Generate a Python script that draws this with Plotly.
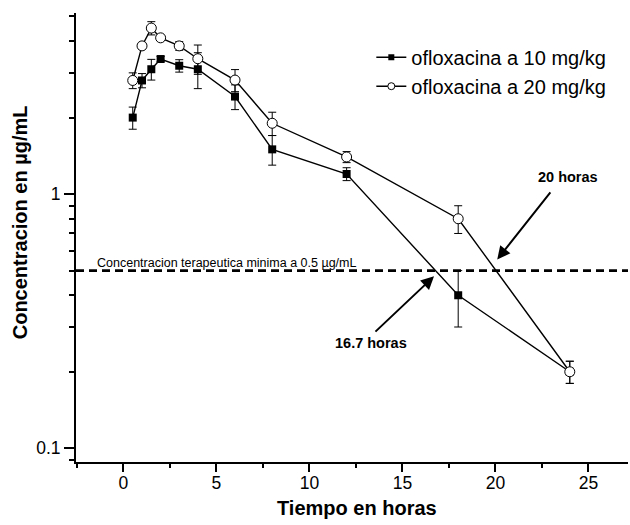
import numpy as np
import plotly.graph_objects as go

# Data
time_h = [0.5, 1, 1.5, 2, 3, 4, 6, 8, 12, 18, 24]
conc_10 = [2.0, 2.8, 3.1, 3.4, 3.2, 3.1, 2.42, 1.5, 1.2, 0.40, 0.20]
err_10 = [0.2, 0.18, 0.29, 0.08, 0.18, 0.5, 0.27, 0.2, 0.07, 0.1, 0.02]
conc_20 = [2.8, 3.83, 4.5, 4.12, 3.83, 3.41, 2.81, 1.9, 1.4, 0.8, 0.20]
err_20 = [0.2, 0.12, 0.27, 0.1, 0.15, 0.45, 0.28, 0.2, 0.07, 0.1, 0.02]
threshold = 0.5
cross_10 = 16.7
cross_20 = 20.0
name_10 = "ofloxacina a 10 mg/kg"
name_20 = "ofloxacina a 20 mg/kg"
x_ticks = [0, 5, 10, 15, 20, 25]
x_minor = [-2.5, 2.5, 7.5, 12.5, 17.5, 22.5]
y_ticks = [0.1, 1]
y_ticklabels = ["0.1", "1"]
y_minor = [0.09, 0.2, 0.3, 0.4, 0.5, 0.6, 0.7, 0.8, 0.9, 2, 3, 4, 5]

XR = [-2.55, 27.13]
YR = [-1.054, 0.7126]
FONT = "Arial, Liberation Sans, sans-serif"

fig = go.Figure()

fig.add_trace(go.Scatter(
    x=XR, y=[threshold, threshold], mode="lines",
    line=dict(color="black", width=2.6, dash="8px,5px"),
    showlegend=False, hoverinfo="skip"))

fig.add_trace(go.Scatter(
    x=time_h, y=conc_10, mode="lines+markers",
    line=dict(color="black", width=1.4),
    marker=dict(symbol="square", size=8, color="black"),
    error_y=dict(type="data", array=err_10, color="black", thickness=1, width=4),
    showlegend=False))

fig.add_trace(go.Scatter(
    x=time_h, y=conc_20, mode="lines+markers",
    line=dict(color="black", width=1.4),
    marker=dict(symbol="circle", size=10, color="white", line=dict(color="black", width=1)),
    error_y=dict(type="data", array=err_20, color="black", thickness=1, width=4),
    showlegend=False))

# legend entries
fig.add_trace(go.Scatter(
    x=[None], y=[None], mode="lines+markers", name=name_10,
    line=dict(color="black", width=1.6),
    marker=dict(symbol="square", size=6, color="black")))
fig.add_trace(go.Scatter(
    x=[None], y=[None], mode="lines+markers", name=name_20,
    line=dict(color="black", width=1.6),
    marker=dict(symbol="circle", size=7, color="white", line=dict(color="black", width=1))))

annotations = [
    dict(x=-1.53, y=np.log10(threshold) + 0.03, xref="x", yref="y",
         text="Concentracion terapeutica minima a 0.5 µg/mL", showarrow=False,
         xanchor="left", yanchor="middle", font=dict(size=12.5, color="black", family=FONT)),
    # arrows
    dict(x=cross_10, y=np.log10(0.475), ax=13.47, ay=np.log10(0.284),
         xref="x", yref="y", axref="x", ayref="y", text="", showarrow=True,
         arrowhead=2, arrowsize=1.3, arrowwidth=2, arrowcolor="black"),
    dict(x=cross_20 + 0.1, y=np.log10(0.553), ax=23.02, ay=np.log10(1.03),
         xref="x", yref="y", axref="x", ayref="y", text="", showarrow=True,
         arrowhead=2, arrowsize=1.3, arrowwidth=2, arrowcolor="black"),
    dict(x=(371 - 123.5) / 18.6, y=(194 - 343) / 254, xref="x", yref="y",
         text="<b>%.1f horas</b>" % cross_10, showarrow=False,
         xanchor="center", yanchor="middle",
         font=dict(size=14.5, color="black", family=FONT)),
    dict(x=(568.5 - 123.5) / 18.6, y=(194 - 177) / 254, xref="x", yref="y",
         text="<b>%d horas</b>" % cross_20, showarrow=False,
         xanchor="center", yanchor="middle",
         font=dict(size=14.5, color="black", family=FONT)),
    # axis titles
    dict(x=-0.1014, y=0.534, xref="paper", yref="paper", textangle=-90,
         xanchor="center", yanchor="middle",
         text="<b>Concentracion en µg/mL</b>", showarrow=False,
         font=dict(size=20, color="black", family=FONT)),
    dict(x=0.509, y=-0.103, xref="paper", yref="paper",
         xanchor="center", yanchor="middle",
         text="<b>Tiempo en horas</b>", showarrow=False,
         font=dict(size=20, color="black", family=FONT)),
]

fig.update_layout(
    width=630, height=525,
    margin=dict(l=76, r=2, t=13, b=63),
    paper_bgcolor="white", plot_bgcolor="white",
    font=dict(family=FONT, color="black"),
    annotations=annotations,
    legend=dict(x=0.535, y=0.945, xanchor="left", yanchor="top",
                font=dict(size=20, color="black", family=FONT),
                bgcolor="rgba(0,0,0,0)", tracegroupgap=0),
    xaxis=dict(range=XR, showgrid=False, zeroline=False,
               showline=True, linecolor="black", linewidth=2,
               tickmode="array", tickvals=x_ticks,
               ticks="outside", ticklen=8, tickwidth=2, tickcolor="black",
               ticklabelstandoff=-4,
               tickfont=dict(size=17.5, color="black"),
               minor=dict(tickmode="array", tickvals=x_minor, ticks="outside",
                          ticklen=4, tickwidth=2, tickcolor="black", showgrid=False)),
    yaxis=dict(type="log", range=YR, showgrid=False, zeroline=False,
               showline=True, linecolor="black", linewidth=2,
               tickmode="array", tickvals=y_ticks, ticktext=y_ticklabels,
               ticks="outside", ticklen=10, tickwidth=1.5, tickcolor="black",
               tickfont=dict(size=17.5, color="black"),
               minor=dict(tickmode="array", tickvals=y_minor, ticks="outside",
                          ticklen=5, tickwidth=1.5, tickcolor="black", showgrid=False)),
)

fig.write_html("out.html")
